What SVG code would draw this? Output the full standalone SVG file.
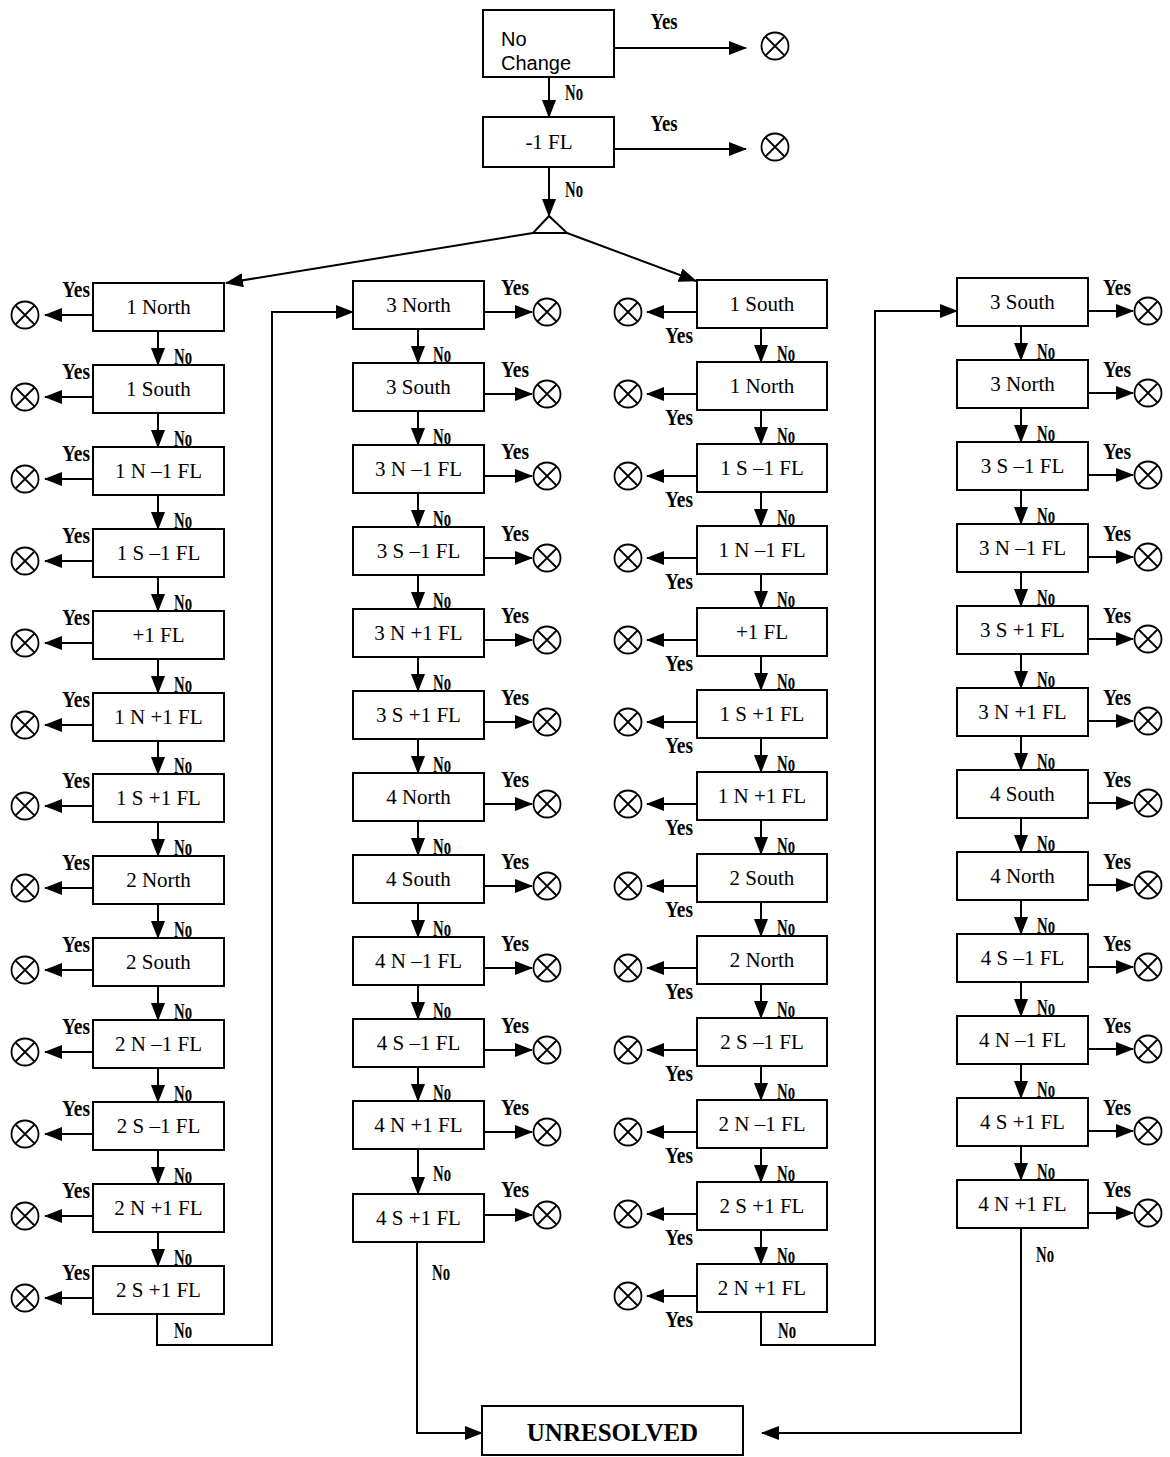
<svg xmlns="http://www.w3.org/2000/svg" xmlns:xlink="http://www.w3.org/1999/xlink" width="1170" height="1457" viewBox="0 0 1170 1457">
<style>
.b{fill:#fff;stroke:#000;stroke-width:2}
.t{font-family:"Liberation Serif",serif;font-size:21px;text-anchor:middle;fill:#000}
.s{font-family:"Liberation Sans",sans-serif;font-size:20px;fill:#000}
.c{fill:none;stroke:#000;stroke-width:2}
.a{fill:none;stroke:#000;stroke-width:2;marker-end:url(#ah)}
.y{font-family:"Liberation Serif",serif;font-weight:bold;font-size:24px;fill:#000}
.m{text-anchor:middle}
.u{font-family:"Liberation Serif",serif;font-weight:bold;font-size:25px;text-anchor:middle}
</style>
<defs>
<marker id="ah" markerUnits="userSpaceOnUse" markerWidth="18" markerHeight="14" viewBox="0 0 18 14" refX="17" refY="7" orient="auto"><path d="M0,0 L18,7 L0,14 z" fill="#000"/></marker>
<g id="cx"><circle r="13.5" fill="none" stroke="#000" stroke-width="1.8"/><path d="M-9.5,-9.5 L9.5,9.5 M-9.5,9.5 L9.5,-9.5" stroke="#000" stroke-width="1.8"/></g>
</defs>
<rect width="1170" height="1457" fill="#fff"/>

<!-- nodes -->
<g id="n-nochange"><rect class="b" x="483" y="10" width="131" height="67"/><text class="s" x="501" y="46">No</text><text class="s" x="501" y="70">Change</text></g>
<g id="n-m1fl"><rect class="b" x="483" y="117" width="131" height="50"/><text class="t" x="549" y="149">-1 FL</text></g>
<g id="n-split"><polygon points="549,216 533,233 567,233" fill="#fff" stroke="#000" stroke-width="2"/></g>

<g id="col1">
<g id="c1-0"><rect class="b" x="93" y="283" width="131" height="48"/><text class="t" x="158.5" y="314">1 North</text></g>
<g id="c1-1"><rect class="b" x="93" y="365" width="131" height="48"/><text class="t" x="158.5" y="396">1 South</text></g>
<g id="c1-2"><rect class="b" x="93" y="447" width="131" height="48"/><text class="t" x="158.5" y="478">1 N –1 FL</text></g>
<g id="c1-3"><rect class="b" x="93" y="529" width="131" height="48"/><text class="t" x="158.5" y="560">1 S –1 FL</text></g>
<g id="c1-4"><rect class="b" x="93" y="611" width="131" height="48"/><text class="t" x="158.5" y="642">+1 FL</text></g>
<g id="c1-5"><rect class="b" x="93" y="693" width="131" height="48"/><text class="t" x="158.5" y="724">1 N +1 FL</text></g>
<g id="c1-6"><rect class="b" x="93" y="774" width="131" height="48"/><text class="t" x="158.5" y="805">1 S +1 FL</text></g>
<g id="c1-7"><rect class="b" x="93" y="856" width="131" height="48"/><text class="t" x="158.5" y="887">2 North</text></g>
<g id="c1-8"><rect class="b" x="93" y="938" width="131" height="48"/><text class="t" x="158.5" y="969">2 South</text></g>
<g id="c1-9"><rect class="b" x="93" y="1020" width="131" height="48"/><text class="t" x="158.5" y="1051">2 N –1 FL</text></g>
<g id="c1-10"><rect class="b" x="93" y="1102" width="131" height="48"/><text class="t" x="158.5" y="1133">2 S –1 FL</text></g>
<g id="c1-11"><rect class="b" x="93" y="1184" width="131" height="48"/><text class="t" x="158.5" y="1215">2 N +1 FL</text></g>
<g id="c1-12"><rect class="b" x="93" y="1266" width="131" height="48"/><text class="t" x="158.5" y="1297">2 S +1 FL</text></g>
</g>

<g id="col2">
<g id="c2-0"><rect class="b" x="353" y="281" width="131" height="48"/><text class="t" x="418.5" y="312">3 North</text></g>
<g id="c2-1"><rect class="b" x="353" y="363" width="131" height="48"/><text class="t" x="418.5" y="394">3 South</text></g>
<g id="c2-2"><rect class="b" x="353" y="445" width="131" height="48"/><text class="t" x="418.5" y="476">3 N –1 FL</text></g>
<g id="c2-3"><rect class="b" x="353" y="527" width="131" height="48"/><text class="t" x="418.5" y="558">3 S –1 FL</text></g>
<g id="c2-4"><rect class="b" x="353" y="609" width="131" height="48"/><text class="t" x="418.5" y="640">3 N +1 FL</text></g>
<g id="c2-5"><rect class="b" x="353" y="691" width="131" height="48"/><text class="t" x="418.5" y="722">3 S +1 FL</text></g>
<g id="c2-6"><rect class="b" x="353" y="773" width="131" height="48"/><text class="t" x="418.5" y="804">4 North</text></g>
<g id="c2-7"><rect class="b" x="353" y="855" width="131" height="48"/><text class="t" x="418.5" y="886">4 South</text></g>
<g id="c2-8"><rect class="b" x="353" y="937" width="131" height="48"/><text class="t" x="418.5" y="968">4 N –1 FL</text></g>
<g id="c2-9"><rect class="b" x="353" y="1019" width="131" height="48"/><text class="t" x="418.5" y="1050">4 S –1 FL</text></g>
<g id="c2-10"><rect class="b" x="353" y="1101" width="131" height="48"/><text class="t" x="418.5" y="1132">4 N +1 FL</text></g>
<g id="c2-11"><rect class="b" x="353" y="1194" width="131" height="48"/><text class="t" x="418.5" y="1225">4 S +1 FL</text></g>
</g>

<g id="col3">
<g id="c3-0"><rect class="b" x="697" y="280" width="130" height="48"/><text class="t" x="762" y="311">1 South</text></g>
<g id="c3-1"><rect class="b" x="697" y="362" width="130" height="48"/><text class="t" x="762" y="393">1 North</text></g>
<g id="c3-2"><rect class="b" x="697" y="444" width="130" height="48"/><text class="t" x="762" y="475">1 S –1 FL</text></g>
<g id="c3-3"><rect class="b" x="697" y="526" width="130" height="48"/><text class="t" x="762" y="557">1 N –1 FL</text></g>
<g id="c3-4"><rect class="b" x="697" y="608" width="130" height="48"/><text class="t" x="762" y="639">+1 FL</text></g>
<g id="c3-5"><rect class="b" x="697" y="690" width="130" height="48"/><text class="t" x="762" y="721">1 S +1 FL</text></g>
<g id="c3-6"><rect class="b" x="697" y="772" width="130" height="48"/><text class="t" x="762" y="803">1 N +1 FL</text></g>
<g id="c3-7"><rect class="b" x="697" y="854" width="130" height="48"/><text class="t" x="762" y="885">2 South</text></g>
<g id="c3-8"><rect class="b" x="697" y="936" width="130" height="48"/><text class="t" x="762" y="967">2 North</text></g>
<g id="c3-9"><rect class="b" x="697" y="1018" width="130" height="48"/><text class="t" x="762" y="1049">2 S –1 FL</text></g>
<g id="c3-10"><rect class="b" x="697" y="1100" width="130" height="48"/><text class="t" x="762" y="1131">2 N –1 FL</text></g>
<g id="c3-11"><rect class="b" x="697" y="1182" width="130" height="48"/><text class="t" x="762" y="1213">2 S +1 FL</text></g>
<g id="c3-12"><rect class="b" x="697" y="1264" width="130" height="48"/><text class="t" x="762" y="1295">2 N +1 FL</text></g>
</g>

<g id="col4">
<g id="c4-0"><rect class="b" x="957" y="278" width="131" height="48"/><text class="t" x="1022.5" y="309">3 South</text></g>
<g id="c4-1"><rect class="b" x="957" y="360" width="131" height="48"/><text class="t" x="1022.5" y="391">3 North</text></g>
<g id="c4-2"><rect class="b" x="957" y="442" width="131" height="48"/><text class="t" x="1022.5" y="473">3 S –1 FL</text></g>
<g id="c4-3"><rect class="b" x="957" y="524" width="131" height="48"/><text class="t" x="1022.5" y="555">3 N –1 FL</text></g>
<g id="c4-4"><rect class="b" x="957" y="606" width="131" height="48"/><text class="t" x="1022.5" y="637">3 S +1 FL</text></g>
<g id="c4-5"><rect class="b" x="957" y="688" width="131" height="48"/><text class="t" x="1022.5" y="719">3 N +1 FL</text></g>
<g id="c4-6"><rect class="b" x="957" y="770" width="131" height="48"/><text class="t" x="1022.5" y="801">4 South</text></g>
<g id="c4-7"><rect class="b" x="957" y="852" width="131" height="48"/><text class="t" x="1022.5" y="883">4 North</text></g>
<g id="c4-8"><rect class="b" x="957" y="934" width="131" height="48"/><text class="t" x="1022.5" y="965">4 S –1 FL</text></g>
<g id="c4-9"><rect class="b" x="957" y="1016" width="131" height="48"/><text class="t" x="1022.5" y="1047">4 N –1 FL</text></g>
<g id="c4-10"><rect class="b" x="957" y="1098" width="131" height="48"/><text class="t" x="1022.5" y="1129">4 S +1 FL</text></g>
<g id="c4-11"><rect class="b" x="957" y="1180" width="131" height="48"/><text class="t" x="1022.5" y="1211">4 N +1 FL</text></g>
</g>

<g id="n-unresolved"><rect class="b" x="482" y="1406" width="261" height="49"/><text class="u" x="612.5" y="1441">UNRESOLVED</text></g>

<g id="terminals">
<use id="x-top1" xlink:href="#cx" x="775" y="46"/>
<use id="x-top2" xlink:href="#cx" x="775" y="147"/>
<use xlink:href="#cx" x="25" y="315"/><use xlink:href="#cx" x="25" y="397"/><use xlink:href="#cx" x="25" y="479"/><use xlink:href="#cx" x="25" y="561"/><use xlink:href="#cx" x="25" y="643"/><use xlink:href="#cx" x="25" y="725"/><use xlink:href="#cx" x="25" y="806"/><use xlink:href="#cx" x="25" y="888"/><use xlink:href="#cx" x="25" y="970"/><use xlink:href="#cx" x="25" y="1052"/><use xlink:href="#cx" x="25" y="1134"/><use xlink:href="#cx" x="25" y="1216"/><use xlink:href="#cx" x="25" y="1298"/>
<use xlink:href="#cx" x="547" y="312"/><use xlink:href="#cx" x="547" y="394"/><use xlink:href="#cx" x="547" y="476"/><use xlink:href="#cx" x="547" y="558"/><use xlink:href="#cx" x="547" y="640"/><use xlink:href="#cx" x="547" y="722"/><use xlink:href="#cx" x="547" y="804"/><use xlink:href="#cx" x="547" y="886"/><use xlink:href="#cx" x="547" y="968"/><use xlink:href="#cx" x="547" y="1050"/><use xlink:href="#cx" x="547" y="1132"/><use xlink:href="#cx" x="547" y="1215"/>
<use xlink:href="#cx" x="628" y="312"/><use xlink:href="#cx" x="628" y="394"/><use xlink:href="#cx" x="628" y="476"/><use xlink:href="#cx" x="628" y="558"/><use xlink:href="#cx" x="628" y="640"/><use xlink:href="#cx" x="628" y="722"/><use xlink:href="#cx" x="628" y="804"/><use xlink:href="#cx" x="628" y="886"/><use xlink:href="#cx" x="628" y="968"/><use xlink:href="#cx" x="628" y="1050"/><use xlink:href="#cx" x="628" y="1132"/><use xlink:href="#cx" x="628" y="1214"/><use xlink:href="#cx" x="628" y="1296"/>
<use xlink:href="#cx" x="1148" y="311"/><use xlink:href="#cx" x="1148" y="393"/><use xlink:href="#cx" x="1148" y="475"/><use xlink:href="#cx" x="1148" y="557"/><use xlink:href="#cx" x="1148" y="639"/><use xlink:href="#cx" x="1148" y="721"/><use xlink:href="#cx" x="1148" y="803"/><use xlink:href="#cx" x="1148" y="885"/><use xlink:href="#cx" x="1148" y="967"/><use xlink:href="#cx" x="1148" y="1049"/><use xlink:href="#cx" x="1148" y="1131"/><use xlink:href="#cx" x="1148" y="1213"/>
</g>

<g id="connectors">
<!-- top -->
<path class="a" d="M614,48 H746"/>
<path class="a" d="M614,149 H746"/>
<path class="a" d="M549,77 V117"/>
<path class="a" d="M549,167 V216"/>
<path class="a" d="M533,233 L226,283"/>
<path class="a" d="M567,233 L696,281"/>
<!-- col1 yes -->
<path class="a" d="M93,315 H45"/><path class="a" d="M93,397 H45"/><path class="a" d="M93,479 H45"/><path class="a" d="M93,561 H45"/><path class="a" d="M93,643 H45"/><path class="a" d="M93,725 H45"/><path class="a" d="M93,806 H45"/><path class="a" d="M93,888 H45"/><path class="a" d="M93,970 H45"/><path class="a" d="M93,1052 H45"/><path class="a" d="M93,1134 H45"/><path class="a" d="M93,1216 H45"/><path class="a" d="M93,1298 H45"/>
<!-- col1 no -->
<path class="a" d="M158,331 V365"/><path class="a" d="M158,413 V447"/><path class="a" d="M158,495 V529"/><path class="a" d="M158,577 V611"/><path class="a" d="M158,659 V693"/><path class="a" d="M158,741 V774"/><path class="a" d="M158,822 V856"/><path class="a" d="M158,904 V938"/><path class="a" d="M158,986 V1020"/><path class="a" d="M158,1068 V1102"/><path class="a" d="M158,1150 V1184"/><path class="a" d="M158,1232 V1266"/>
<!-- col2 yes -->
<path class="a" d="M484,312 H532"/><path class="a" d="M484,394 H532"/><path class="a" d="M484,476 H532"/><path class="a" d="M484,558 H532"/><path class="a" d="M484,640 H532"/><path class="a" d="M484,722 H532"/><path class="a" d="M484,804 H532"/><path class="a" d="M484,886 H532"/><path class="a" d="M484,968 H532"/><path class="a" d="M484,1050 H532"/><path class="a" d="M484,1132 H532"/><path class="a" d="M484,1215 H532"/>
<!-- col2 no -->
<path class="a" d="M418,329 V363"/><path class="a" d="M418,411 V445"/><path class="a" d="M418,493 V527"/><path class="a" d="M418,575 V609"/><path class="a" d="M418,657 V691"/><path class="a" d="M418,739 V773"/><path class="a" d="M418,821 V855"/><path class="a" d="M418,903 V937"/><path class="a" d="M418,985 V1019"/><path class="a" d="M418,1067 V1101"/><path class="a" d="M418,1149 V1194"/>
<!-- col3 yes -->
<path class="a" d="M697,312 H647"/><path class="a" d="M697,394 H647"/><path class="a" d="M697,476 H647"/><path class="a" d="M697,558 H647"/><path class="a" d="M697,640 H647"/><path class="a" d="M697,722 H647"/><path class="a" d="M697,804 H647"/><path class="a" d="M697,886 H647"/><path class="a" d="M697,968 H647"/><path class="a" d="M697,1050 H647"/><path class="a" d="M697,1132 H647"/><path class="a" d="M697,1214 H647"/><path class="a" d="M697,1296 H647"/>
<!-- col3 no -->
<path class="a" d="M761,328 V362"/><path class="a" d="M761,410 V444"/><path class="a" d="M761,492 V526"/><path class="a" d="M761,574 V608"/><path class="a" d="M761,656 V690"/><path class="a" d="M761,738 V772"/><path class="a" d="M761,820 V854"/><path class="a" d="M761,902 V936"/><path class="a" d="M761,984 V1018"/><path class="a" d="M761,1066 V1100"/><path class="a" d="M761,1148 V1182"/><path class="a" d="M761,1230 V1264"/>
<!-- col4 yes -->
<path class="a" d="M1088,311 H1133"/><path class="a" d="M1088,393 H1133"/><path class="a" d="M1088,475 H1133"/><path class="a" d="M1088,557 H1133"/><path class="a" d="M1088,639 H1133"/><path class="a" d="M1088,721 H1133"/><path class="a" d="M1088,803 H1133"/><path class="a" d="M1088,885 H1133"/><path class="a" d="M1088,967 H1133"/><path class="a" d="M1088,1049 H1133"/><path class="a" d="M1088,1131 H1133"/><path class="a" d="M1088,1213 H1133"/>
<!-- col4 no -->
<path class="a" d="M1021,326 V360"/><path class="a" d="M1021,408 V442"/><path class="a" d="M1021,490 V524"/><path class="a" d="M1021,572 V606"/><path class="a" d="M1021,654 V688"/><path class="a" d="M1021,736 V770"/><path class="a" d="M1021,818 V852"/><path class="a" d="M1021,900 V934"/><path class="a" d="M1021,982 V1016"/><path class="a" d="M1021,1064 V1098"/><path class="a" d="M1021,1146 V1180"/>
<!-- loops -->
<path class="a" d="M157,1314 V1345 H272 V312 H353"/>
<path class="a" d="M761,1312 V1345 H875 V311 H957"/>
<path class="a" d="M417,1242 V1433 H482"/>
<path class="a" d="M1021,1228 V1433 H762"/>

<!-- labels -->
<g class="y">
<text class="m" x="664" y="29" textLength="27" lengthAdjust="spacingAndGlyphs">Yes</text>
<text class="m" x="664" y="131" textLength="27" lengthAdjust="spacingAndGlyphs">Yes</text>
<text x="565" y="100" textLength="18" lengthAdjust="spacingAndGlyphs">No</text>
<text x="565" y="197" textLength="18" lengthAdjust="spacingAndGlyphs">No</text>
</g>
<g class="y">
<text class="m" x="76" y="297" textLength="28" lengthAdjust="spacingAndGlyphs">Yes</text><text class="m" x="76" y="379" textLength="28" lengthAdjust="spacingAndGlyphs">Yes</text><text class="m" x="76" y="461" textLength="28" lengthAdjust="spacingAndGlyphs">Yes</text><text class="m" x="76" y="543" textLength="28" lengthAdjust="spacingAndGlyphs">Yes</text><text class="m" x="76" y="625" textLength="28" lengthAdjust="spacingAndGlyphs">Yes</text><text class="m" x="76" y="707" textLength="28" lengthAdjust="spacingAndGlyphs">Yes</text><text class="m" x="76" y="788" textLength="28" lengthAdjust="spacingAndGlyphs">Yes</text><text class="m" x="76" y="870" textLength="28" lengthAdjust="spacingAndGlyphs">Yes</text><text class="m" x="76" y="952" textLength="28" lengthAdjust="spacingAndGlyphs">Yes</text><text class="m" x="76" y="1034" textLength="28" lengthAdjust="spacingAndGlyphs">Yes</text><text class="m" x="76" y="1116" textLength="28" lengthAdjust="spacingAndGlyphs">Yes</text><text class="m" x="76" y="1198" textLength="28" lengthAdjust="spacingAndGlyphs">Yes</text><text class="m" x="76" y="1280" textLength="28" lengthAdjust="spacingAndGlyphs">Yes</text>
<text x="174" y="364" textLength="18" lengthAdjust="spacingAndGlyphs">No</text><text x="174" y="446" textLength="18" lengthAdjust="spacingAndGlyphs">No</text><text x="174" y="528" textLength="18" lengthAdjust="spacingAndGlyphs">No</text><text x="174" y="610" textLength="18" lengthAdjust="spacingAndGlyphs">No</text><text x="174" y="692" textLength="18" lengthAdjust="spacingAndGlyphs">No</text><text x="174" y="773" textLength="18" lengthAdjust="spacingAndGlyphs">No</text><text x="174" y="855" textLength="18" lengthAdjust="spacingAndGlyphs">No</text><text x="174" y="937" textLength="18" lengthAdjust="spacingAndGlyphs">No</text><text x="174" y="1019" textLength="18" lengthAdjust="spacingAndGlyphs">No</text><text x="174" y="1101" textLength="18" lengthAdjust="spacingAndGlyphs">No</text><text x="174" y="1183" textLength="18" lengthAdjust="spacingAndGlyphs">No</text><text x="174" y="1265" textLength="18" lengthAdjust="spacingAndGlyphs">No</text>
<text x="174" y="1338" textLength="18" lengthAdjust="spacingAndGlyphs">No</text>
</g>
<g class="y">
<text class="m" x="515" y="295" textLength="28" lengthAdjust="spacingAndGlyphs">Yes</text><text class="m" x="515" y="377" textLength="28" lengthAdjust="spacingAndGlyphs">Yes</text><text class="m" x="515" y="459" textLength="28" lengthAdjust="spacingAndGlyphs">Yes</text><text class="m" x="515" y="541" textLength="28" lengthAdjust="spacingAndGlyphs">Yes</text><text class="m" x="515" y="623" textLength="28" lengthAdjust="spacingAndGlyphs">Yes</text><text class="m" x="515" y="705" textLength="28" lengthAdjust="spacingAndGlyphs">Yes</text><text class="m" x="515" y="787" textLength="28" lengthAdjust="spacingAndGlyphs">Yes</text><text class="m" x="515" y="869" textLength="28" lengthAdjust="spacingAndGlyphs">Yes</text><text class="m" x="515" y="951" textLength="28" lengthAdjust="spacingAndGlyphs">Yes</text><text class="m" x="515" y="1033" textLength="28" lengthAdjust="spacingAndGlyphs">Yes</text><text class="m" x="515" y="1115" textLength="28" lengthAdjust="spacingAndGlyphs">Yes</text><text class="m" x="515" y="1197" textLength="28" lengthAdjust="spacingAndGlyphs">Yes</text>
<text x="433" y="362" textLength="18" lengthAdjust="spacingAndGlyphs">No</text><text x="433" y="444" textLength="18" lengthAdjust="spacingAndGlyphs">No</text><text x="433" y="526" textLength="18" lengthAdjust="spacingAndGlyphs">No</text><text x="433" y="608" textLength="18" lengthAdjust="spacingAndGlyphs">No</text><text x="433" y="690" textLength="18" lengthAdjust="spacingAndGlyphs">No</text><text x="433" y="772" textLength="18" lengthAdjust="spacingAndGlyphs">No</text><text x="433" y="854" textLength="18" lengthAdjust="spacingAndGlyphs">No</text><text x="433" y="936" textLength="18" lengthAdjust="spacingAndGlyphs">No</text><text x="433" y="1018" textLength="18" lengthAdjust="spacingAndGlyphs">No</text><text x="433" y="1100" textLength="18" lengthAdjust="spacingAndGlyphs">No</text><text x="433" y="1181" textLength="18" lengthAdjust="spacingAndGlyphs">No</text>
<text x="432" y="1280" textLength="18" lengthAdjust="spacingAndGlyphs">No</text>
</g>
<g class="y">
<text class="m" x="679" y="343" textLength="28" lengthAdjust="spacingAndGlyphs">Yes</text><text class="m" x="679" y="425" textLength="28" lengthAdjust="spacingAndGlyphs">Yes</text><text class="m" x="679" y="507" textLength="28" lengthAdjust="spacingAndGlyphs">Yes</text><text class="m" x="679" y="589" textLength="28" lengthAdjust="spacingAndGlyphs">Yes</text><text class="m" x="679" y="671" textLength="28" lengthAdjust="spacingAndGlyphs">Yes</text><text class="m" x="679" y="753" textLength="28" lengthAdjust="spacingAndGlyphs">Yes</text><text class="m" x="679" y="835" textLength="28" lengthAdjust="spacingAndGlyphs">Yes</text><text class="m" x="679" y="917" textLength="28" lengthAdjust="spacingAndGlyphs">Yes</text><text class="m" x="679" y="999" textLength="28" lengthAdjust="spacingAndGlyphs">Yes</text><text class="m" x="679" y="1081" textLength="28" lengthAdjust="spacingAndGlyphs">Yes</text><text class="m" x="679" y="1163" textLength="28" lengthAdjust="spacingAndGlyphs">Yes</text><text class="m" x="679" y="1245" textLength="28" lengthAdjust="spacingAndGlyphs">Yes</text><text class="m" x="679" y="1327" textLength="28" lengthAdjust="spacingAndGlyphs">Yes</text>
<text x="777" y="361" textLength="18" lengthAdjust="spacingAndGlyphs">No</text><text x="777" y="443" textLength="18" lengthAdjust="spacingAndGlyphs">No</text><text x="777" y="525" textLength="18" lengthAdjust="spacingAndGlyphs">No</text><text x="777" y="607" textLength="18" lengthAdjust="spacingAndGlyphs">No</text><text x="777" y="689" textLength="18" lengthAdjust="spacingAndGlyphs">No</text><text x="777" y="771" textLength="18" lengthAdjust="spacingAndGlyphs">No</text><text x="777" y="853" textLength="18" lengthAdjust="spacingAndGlyphs">No</text><text x="777" y="935" textLength="18" lengthAdjust="spacingAndGlyphs">No</text><text x="777" y="1017" textLength="18" lengthAdjust="spacingAndGlyphs">No</text><text x="777" y="1099" textLength="18" lengthAdjust="spacingAndGlyphs">No</text><text x="777" y="1181" textLength="18" lengthAdjust="spacingAndGlyphs">No</text><text x="777" y="1263" textLength="18" lengthAdjust="spacingAndGlyphs">No</text>
<text x="778" y="1338" textLength="18" lengthAdjust="spacingAndGlyphs">No</text>
</g>
<g class="y">
<text class="m" x="1117" y="295" textLength="28" lengthAdjust="spacingAndGlyphs">Yes</text><text class="m" x="1117" y="377" textLength="28" lengthAdjust="spacingAndGlyphs">Yes</text><text class="m" x="1117" y="459" textLength="28" lengthAdjust="spacingAndGlyphs">Yes</text><text class="m" x="1117" y="541" textLength="28" lengthAdjust="spacingAndGlyphs">Yes</text><text class="m" x="1117" y="623" textLength="28" lengthAdjust="spacingAndGlyphs">Yes</text><text class="m" x="1117" y="705" textLength="28" lengthAdjust="spacingAndGlyphs">Yes</text><text class="m" x="1117" y="787" textLength="28" lengthAdjust="spacingAndGlyphs">Yes</text><text class="m" x="1117" y="869" textLength="28" lengthAdjust="spacingAndGlyphs">Yes</text><text class="m" x="1117" y="951" textLength="28" lengthAdjust="spacingAndGlyphs">Yes</text><text class="m" x="1117" y="1033" textLength="28" lengthAdjust="spacingAndGlyphs">Yes</text><text class="m" x="1117" y="1115" textLength="28" lengthAdjust="spacingAndGlyphs">Yes</text><text class="m" x="1117" y="1197" textLength="28" lengthAdjust="spacingAndGlyphs">Yes</text>
<text x="1037" y="359" textLength="18" lengthAdjust="spacingAndGlyphs">No</text><text x="1037" y="441" textLength="18" lengthAdjust="spacingAndGlyphs">No</text><text x="1037" y="523" textLength="18" lengthAdjust="spacingAndGlyphs">No</text><text x="1037" y="605" textLength="18" lengthAdjust="spacingAndGlyphs">No</text><text x="1037" y="687" textLength="18" lengthAdjust="spacingAndGlyphs">No</text><text x="1037" y="769" textLength="18" lengthAdjust="spacingAndGlyphs">No</text><text x="1037" y="851" textLength="18" lengthAdjust="spacingAndGlyphs">No</text><text x="1037" y="933" textLength="18" lengthAdjust="spacingAndGlyphs">No</text><text x="1037" y="1015" textLength="18" lengthAdjust="spacingAndGlyphs">No</text><text x="1037" y="1097" textLength="18" lengthAdjust="spacingAndGlyphs">No</text><text x="1037" y="1179" textLength="18" lengthAdjust="spacingAndGlyphs">No</text>
<text x="1036" y="1262" textLength="18" lengthAdjust="spacingAndGlyphs">No</text>
</g>
</g>
</svg>
